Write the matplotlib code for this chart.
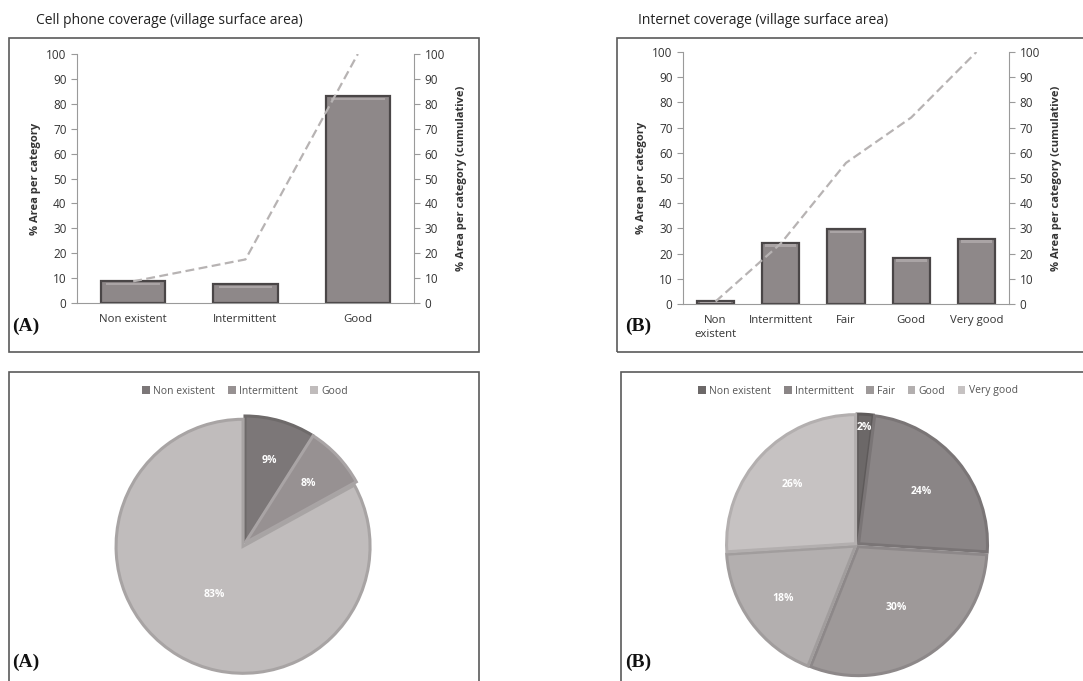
import numpy as np
import matplotlib
matplotlib.use('Agg')
import matplotlib.pyplot as plt
from matplotlib.patches import Rectangle, Patch

W, H = 1083, 681

# ---- data ----
cell_cats = ['Non existent', 'Intermittent', 'Good']
cell_vals = [8.7, 7.6, 83]
cell_cum = [8.7, 17.5, 100]
cell_pie = [9, 8, 83]

net_cats = ['Non existent', 'Intermittent', 'Fair', 'Good', 'Very good']
net_ticklabels = ['Non\nexistent', 'Intermittent', 'Fair', 'Good', 'Very good']
net_vals = [1.2, 24.3, 29.6, 18.3, 25.8]
net_cum = [1, 24, 56, 74, 100]
net_pie = [2, 24, 30, 18, 26]

cell_colors = ['#7c7778', '#979192', '#c0bcbc']
cell_edges = ['#6e6a6a', '#a9a4a5', '#a8a4a4']
net_colors = ['#6c6868', '#8a8586', '#9e9999', '#b3afaf', '#c6c2c2']
net_edges = ['#5e5a5a', '#7a7576', '#8d8889', '#a19d9d', '#b3afaf']

cell_lbl_dist = [0.68, 0.68, 0.44]
net_lbl_dist = [0.9, 0.63, 0.56, 0.69, 0.67]

plt.rcParams['font.family'] = ['Open Sans', 'DejaVu Sans']
TXT = '#333333'
SP = '#9a9a9a'
FS = 8.5


def rect(x0, y0, x1, y1):
    return [x0 / W, 1 - y1 / H, (x1 - x0) / W, (y1 - y0) / H]


fig = plt.figure(figsize=(W / 100, H / 100), dpi=100)
fig.patch.set_facecolor('white')

# panel frames
for (x0, y0, x1, y1) in [(9, 38, 479, 352), (617, 38, 1090, 352),
                         (9, 372, 479, 690), (621, 372, 1090, 690)]:
    fig.patches.append(Rectangle((x0 / W, 1 - y1 / H), (x1 - x0) / W, (y1 - y0) / H,
                                 transform=fig.transFigure, fill=False,
                                 edgecolor='#5a5a5a', lw=1.2))

fig.text(36 / W, 1 - 21 / H, 'Cell phone coverage (village surface area)',
         fontsize=10, color='#222222', va='center', ha='left')
fig.text(638 / W, 1 - 21 / H, 'Internet coverage (village surface area)',
         fontsize=10, color='#222222', va='center', ha='left')

for (x, y, s) in [(12, 326, '(A)'), (625, 326, '(B)'), (12, 662, '(A)'), (625, 662, '(B)')]:
    fig.text(x / W, 1 - y / H, s, fontsize=14, fontweight='bold',
             family='Liberation Serif', va='center', ha='left', color='#111111')


def bar_panel(box, cats, ticklabels, vals, cum):
    ax = fig.add_axes(rect(*box))
    x = np.arange(len(cats))
    ax.bar(x, vals, width=0.57, color='#8e8889', edgecolor='#4a4647', lw=1.6, zorder=2)
    # light bevel along the top of each bar
    ax.bar(x, [min(1.0, v * 0.3) for v in vals], bottom=[v - min(1.0, v * 0.3) - 0.6 for v in vals],
           width=0.48, color='#aaa4a5', lw=0, zorder=3)
    ax.set_xlim(-0.5, len(cats) - 0.5)
    ax.set_ylim(0, 100)
    ax.set_yticks(range(0, 101, 10))
    ax.set_xticks(x)
    ax.set_xticklabels(ticklabels, fontsize=8.2, color=TXT, linespacing=1.3)
    ax.tick_params(axis='x', length=0, pad=8)
    ax.tick_params(axis='y', labelsize=FS, colors=TXT, color=SP, length=4, width=0.8)
    for s in ['top', 'right']:
        ax.spines[s].set_visible(False)
    for s in ['left', 'bottom']:
        ax.spines[s].set_color(SP)
    ax.set_ylabel('% Area per category', fontsize=8, fontweight='bold', color='#333333', labelpad=4)

    ax2 = ax.twinx()
    ax2.plot(x, cum, color='#b7b3b3', lw=1.6, ls=(0, (4, 2)), zorder=4)
    ax2.set_ylim(0, 100)
    ax2.set_yticks(range(0, 101, 10))
    ax2.tick_params(axis='y', labelsize=FS, colors=TXT, color=SP, length=4, width=0.8)
    for s in ['top', 'left', 'bottom']:
        ax2.spines[s].set_visible(False)
    ax2.spines['right'].set_color(SP)
    ax2.set_ylabel('% Area per category (cumulative)', fontsize=8, fontweight='bold',
                   color='#333333', labelpad=8)
    return ax


bar_panel((77, 54, 414, 303), cell_cats, cell_cats, cell_vals, cell_cum)
bar_panel((683, 52, 1009, 304), net_cats, net_ticklabels, net_vals, net_cum)


def pie_panel(box, cats, vals, colors, edges, explode, dists, legend_xy):
    ax = fig.add_axes(rect(*box))
    wedges, _, autotexts = ax.pie(vals, colors=colors, startangle=90, counterclock=False,
                                  explode=explode, autopct='%d%%', radius=1.0,
                                  wedgeprops=dict(lw=2.2), textprops=dict(color='white', fontsize=7.5,
                                                                           fontweight='bold'))
    for w, ec in zip(wedges, edges):
        w.set_edgecolor(ec)
    for w, t, d in zip(wedges, autotexts, dists):
        ang = np.deg2rad((w.theta1 + w.theta2) / 2)
        cx, cy = w.center
        t.set_position((cx + d * np.cos(ang), cy + d * np.sin(ang)))
    ax.set_xlim(-1.0, 1.0)
    ax.set_ylim(-1.0, 1.0)
    ax.set_aspect('equal')
    ax.axis('off')
    handles = [Patch(facecolor=c, edgecolor='none') for c in colors]
    fig.legend(handles, cats, loc='center', ncol=len(cats), frameon=False,
               bbox_to_anchor=(legend_xy[0] / W, 1 - legend_xy[1] / H),
               fontsize=7.5, handlelength=0.75, handleheight=0.75, handletextpad=0.3,
               columnspacing=1.2, labelcolor='#555555')


pie_panel((118, 416, 372, 670), cell_cats, cell_pie, cell_colors, cell_edges,
          [0, 0, 0.03], cell_lbl_dist, (245, 391))
pie_panel((728, 416, 986, 674), net_cats, net_pie, net_colors, net_edges,
          [0.015] * 5, net_lbl_dist, (858, 391))

fig.savefig('out.png', dpi=100)
